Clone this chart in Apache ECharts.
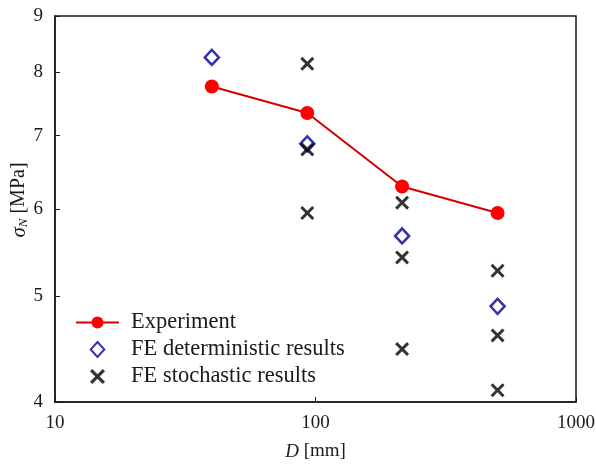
<!DOCTYPE html>
<html>
<head>
<meta charset="utf-8">
<script src="https://cdn.jsdelivr.net/npm/echarts@6/dist/echarts.min.js"></script>
<style>
html,body{margin:0;padding:0;background:#fff;}
#chart{width:596px;height:465px;}
</style>
</head>
<body>
<div id="chart"></div>
<script>
// Data (D in mm, sigma_N in MPa)
const expD = [40, 93, 215, 500];
const expSigma = [7.76, 7.34, 6.29, 5.95];
const detD = [40, 93, 215, 500];
const detSigma = [8.25, 6.88, 5.67, 4.89];
const stoD = [93, 93, 93, 215, 215, 215, 500, 500, 500];
const stoSigma = [8.14, 6.80, 5.95, 6.08, 5.42, 4.47, 5.27, 4.60, 4.10];
const yTicks = [4, 5, 6, 7, 8, 9];
const xTicks = [10, 100, 1000];
const seriesNames = ['Experiment', 'FE deterministic results', 'FE stochastic results'];

const zip = (a, b) => a.map((v, i) => [v, b[i]]);
const FONT = 'Liberation Serif';
const INK = '#1a1a1a';
const crossPath = 'path://M0,1.5L1.5,0L5,3.5L8.5,0L10,1.5L6.5,5L10,8.5L8.5,10L5,6.5L1.5,10L0,8.5L3.5,5Z';
const diamondPath = 'path://M5,0L10,5.5L5,11L0,5.5Z';

const chart = echarts.init(document.getElementById('chart'), null, {renderer: 'canvas'});
chart.setOption({
  animation: false,
  backgroundColor: '#fff',
  grid: {left: 55, top: 16, right: 20, bottom: 63, outerBoundsMode: 'none', containLabel: false,
    show: true, borderColor: INK, borderWidth: 1.5},
  xAxis: {
    type: 'log', logBase: 10, min: 10, max: 1000,
    name: '{i|D} [mm]', nameLocation: 'middle', nameGap: 40, nameMoveOverlap: false,
    nameTextStyle: {fontFamily: FONT, fontSize: 19, color: INK, rich: {i: {fontFamily: FONT, fontSize: 19, fontStyle: 'italic', color: INK}}},
    axisLine: {lineStyle: {color: INK, width: 1.5}},
    axisTick: {inside: true, length: 5, lineStyle: {color: INK}, customValues: xTicks},
    minorTick: {show: false},
    splitLine: {show: false},
    axisLabel: {fontFamily: FONT, fontSize: 19, color: INK, margin: 12, customValues: xTicks, formatter: v => String(v)}
  },
  yAxis: {
    type: 'log', logBase: 10, min: 4, max: 9,
    name: '{i|σ}{s|N} [MPa]', nameLocation: 'middle', nameGap: 25, nameMoveOverlap: false,
    nameTextStyle: {fontFamily: FONT, fontSize: 20, color: INK, padding: [0, 0, 0, 18], rich: {
      i: {fontFamily: FONT, fontSize: 21, fontStyle: 'italic', color: INK},
      s: {fontFamily: FONT, fontSize: 13, fontStyle: 'italic', color: INK, padding: [9, 0, 0, 0]}
    }},
    axisLine: {lineStyle: {color: INK, width: 1.5}},
    axisTick: {inside: true, length: 5, lineStyle: {color: INK}, customValues: yTicks},
    splitLine: {show: false},
    axisLabel: {fontFamily: FONT, fontSize: 19, color: INK, margin: 12, customValues: yTicks, formatter: v => String(v)}
  },
  legend: {
    left: 70, top: 306, orient: 'vertical', itemWidth: 43, itemHeight: 15, itemGap: 4,
    textStyle: {fontFamily: FONT, fontSize: 22.5, lineHeight: 22.5, color: INK, padding: [0, 0, 0, 7]},
    data: seriesNames
  },
  series: [
    {
      name: seriesNames[0], type: 'line', data: zip(expD, expSigma),
      symbol: 'circle', symbolSize: 14,
      lineStyle: {color: '#d40000', width: 2},
      itemStyle: {color: '#ff0000'}, z: 3
    },
    {
      name: seriesNames[1], type: 'scatter', data: zip(detD, detSigma),
      symbol: diamondPath, symbolSize: [14, 15],
      itemStyle: {color: '#ffffff', borderColor: '#000099', borderWidth: 2.6}, z: 4
    },
    {
      name: seriesNames[2], type: 'scatter', data: zip(stoD, stoSigma),
      symbol: crossPath, symbolSize: 14,
      itemStyle: {color: '#000'}, z: 5
    }
  ]
});
</script>
</body>
</html>
